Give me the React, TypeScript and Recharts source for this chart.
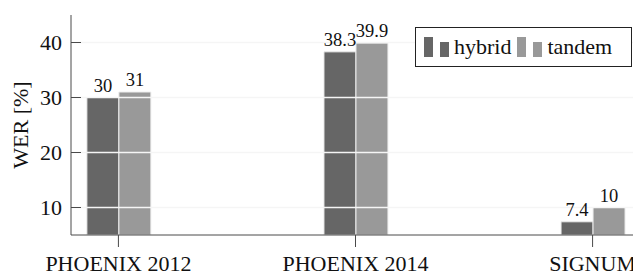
import React from "react";
import { BarChart, Bar, XAxis, YAxis, ReferenceLine, LabelList } from "recharts";

const categories = ["PHOENIX 2012", "PHOENIX 2014", "SIGNUM"];
const hybrid = [30, 38.3, 7.4];
const tandem = [31, 39.9, 10];
const yTicks = [10, 20, 30, 40];

const data = categories.map((name, i) => ({ pos: i, name, hybrid: hybrid[i], tandem: tandem[i] }));

const FONT = "Liberation Serif";
const AXIS = "#4a4a4a";
const HYBRID = "#666666";
const TANDEM = "#999999";

const LeftTick = (props: any) => {
    const { y, payload } = props;
    return (
        <g>
            <line x1={71} x2={81} y1={y} y2={y} stroke={AXIS} />
            <text x={62} y={y} textAnchor="end" dominantBaseline="central" fontFamily={FONT} fontSize={22} fill="#111">
                {payload.value}
            </text>
        </g>
    );
};

const RightTick = (props: any) => {
    const { y } = props;
    return <line x1={630} x2={640} y1={y} y2={y} stroke={AXIS} />;
};

const LegendBox = () => {
    const item = (color: string, label: string) => (
        <span style={{ display: "inline-flex", alignItems: "flex-end", marginRight: 5 }}>
            <svg width={27} height={22} style={{ marginRight: 4 }}>
                <rect x={1} y={1} width={9} height={20} fill={color} />
                <rect x={17} y={6} width={9} height={15} fill={color} />
            </svg>
            <span>{label}</span>
        </span>
    );
    return (
        <div
            style={{
                position: "absolute",
                left: 415,
                top: 27,
                border: "1px solid #222",
                background: "#fff",
                width: 217,
                height: 40,
                boxSizing: "border-box",
                display: "flex",
                alignItems: "center",
                paddingLeft: 7,
                fontFamily: FONT,
                fontSize: 22,
                color: "#111",
                lineHeight: "22px",
            }}
        >
            {item(HYBRID, "hybrid")}
            {item(TANDEM, "tandem")}
        </div>
    );
};

export default function App() {
    return (
        <div style={{ position: "absolute", left: 0, top: 0, width: 633, height: 275, overflow: "hidden", background: "#fff" }}>
            <BarChart
                width={650}
                height={275}
                data={data}
                margin={{ top: 15, right: 10, left: 0, bottom: 0 }}
                barGap={0}
                barSize={32}
            >
                <XAxis
                    dataKey="pos"
                    type="number"
                    domain={[-0.2, 2.2]}
                    ticks={[0, 1, 2]}
                    tickFormatter={(v: number) => categories[v]}
                    height={40}
                    stroke={AXIS}
                    tickSize={12}
                    tickMargin={8}
                    tick={{ fontFamily: FONT, fontSize: 22, fill: "#111" }}
                    allowDataOverflow
                />
                <XAxis
                    xAxisId="top"
                    orientation="top"
                    dataKey="pos"
                    type="number"
                    domain={[-0.2, 2.2]}
                    ticks={[0, 1, 2]}
                    tickFormatter={() => ""}
                    height={0}
                    stroke={AXIS}
                    tickSize={12}
                />
                <YAxis
                    domain={[5, 45]}
                    ticks={yTicks}
                    width={71}
                    stroke={AXIS}
                    tickLine={false}
                    tick={<LeftTick />}
                    allowDataOverflow
                    label={{
                        value: "WER [%]",
                        angle: -90,
                        position: "insideLeft",
                        offset: 0,
                        dx: 20,
                        style: { fontFamily: FONT, fontSize: 22, fill: "#111", textAnchor: "middle" },
                    }}
                />
                <YAxis
                    yAxisId="right"
                    orientation="right"
                    domain={[5, 45]}
                    ticks={yTicks}
                    width={0}
                    stroke={AXIS}
                    tickLine={false}
                    tick={<RightTick />}
                />
                <Bar dataKey="hybrid" name="hybrid" fill={HYBRID} stroke="#eeeeee" strokeWidth={1} isAnimationActive={false}>
                    <LabelList dataKey="hybrid" position="top" offset={6} style={{ fontFamily: FONT, fontSize: 18.5, fill: "#111" }} />
                </Bar>
                <Bar dataKey="tandem" name="tandem" fill={TANDEM} stroke="#eeeeee" strokeWidth={1} isAnimationActive={false}>
                    <LabelList dataKey="tandem" position="top" offset={6} style={{ fontFamily: FONT, fontSize: 18.5, fill: "#111" }} />
                </Bar>
                {yTicks.map((t) => (
                    <ReferenceLine
                        key={t}
                        y={t}
                        stroke="#f5f5f5"
                        strokeWidth={1.5}
                        segment={[{ x: -0.155, y: t }, { x: 2.155, y: t }]}
                    />
                ))}
            </BarChart>
            <LegendBox />
        </div>
    );
}
